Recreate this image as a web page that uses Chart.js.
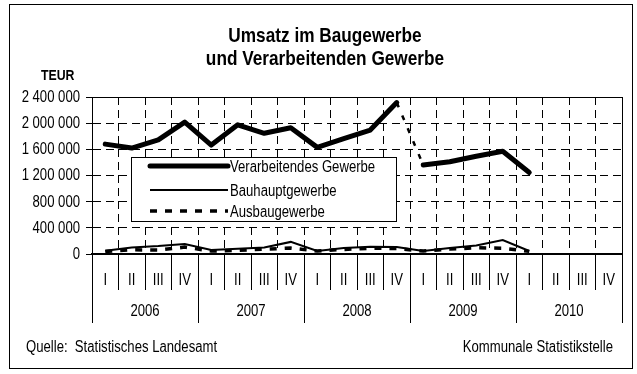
<!DOCTYPE html>
<html lang="de">
<head>
<meta charset="utf-8">
<title>Umsatz im Baugewerbe und Verarbeitenden Gewerbe</title>
<script src="https://cdn.jsdelivr.net/npm/chart.js@4.4.1/dist/chart.umd.min.js"></script>
<style>
    html, body {
        margin: 0;
        padding: 0;
        background-color: #fff;
    }

    canvas {
        display: block;
    }
</style>
</head>
<body>
<canvas id="umsatz" width="637" height="374"></canvas>
<script>
    // Quartale 2006 - 2010, Umsatz in TEUR
    const quartale = ['I', 'II', 'III', 'IV', 'I', 'II', 'III', 'IV', 'I', 'II', 'III', 'IV',
                      'I', 'II', 'III', 'IV', 'I', 'II', 'III', 'IV'];
    const jahre = ['2006', '2007', '2008', '2009', '2010'];

    const verarbeitendesGewerbe = [1680000, 1620000, 1745000, 2015000, 1665000, 1975000, 1845000, 1930000,
                                   1630000, 1765000, 1895000, 2315000, 1360000, 1410000, 1495000, 1570000,
                                   1245000, null, null, null];
    const bauhauptgewerbe = [50000, 100000, 122000, 153000, 61000, 80000, 100000, 185000,
                             46000, 90000, 112000, 108000, 46000, 90000, 130000, 214000,
                             46000, null, null, null];
    const ausbaugewerbe = [40000, 65000, 60000, 105000, 45000, 55000, 75000, 90000,
                           45000, 70000, 87000, 85000, 45000, 75000, 95000, 88000,
                           40000, null, null, null];

    // Bruch in der Reihe Verarbeitendes Gewerbe zwischen IV/2008 und I/2009
    const bruchNach = 11;

    const yMax = 2400000;
    const yStep = 400000;

    // keine Narrow-Schrift vorhanden -> Text horizontal stauchen
    const schrift = "'Liberation Sans', Arial, sans-serif";
    const stauchung = 0.82;

    const tausender = v => String(v).replace(/\B(?=(\d{3})+(?!\d))/g, ' ');

    function schmal(ctx, text, x, y, font, align, baseline) {
        ctx.save();
        ctx.font = font;
        ctx.fillStyle = '#000';
        ctx.textAlign = align || 'left';
        ctx.textBaseline = baseline || 'alphabetic';
        ctx.translate(x, y);
        ctx.scale(stauchung, 1);
        ctx.fillText(text, 0, 0);
        ctx.restore();
    }

    const rahmen = {
        id: 'rahmen',
        beforeDraw(chart) {
            const ctx = chart.ctx;
            ctx.save();
            ctx.fillStyle = '#fff';
            ctx.fillRect(0, 0, chart.width, chart.height);
            ctx.restore();
        },
        afterDatasetsDraw(chart) {
            const {ctx, chartArea: a} = chart;
            ctx.save();
            // oberer und rechter Rand der Zeichenfläche
            ctx.strokeStyle = '#000';
            ctx.lineWidth = 1;
            ctx.beginPath();
            ctx.moveTo(a.left, a.top + 0.5);
            ctx.lineTo(a.right + 0.5, a.top + 0.5);
            ctx.lineTo(a.right + 0.5, a.bottom);
            ctx.stroke();

            // Legende
            const lx = 131.5, ly = 157.5, lw = 265, lh = 64;
            ctx.fillStyle = '#fff';
            ctx.fillRect(lx, ly, lw, lh);
            ctx.strokeRect(lx, ly, lw, lh);
            const zeilen = [166, 190, 211];
            chart.data.datasets.forEach((ds, i) => {
                const y = zeilen[i];
                ctx.save();
                ctx.lineWidth = ds.borderWidth;
                ctx.strokeStyle = ds.borderColor;
                ctx.lineCap = ds.borderCapStyle || 'butt';
                ctx.setLineDash(ds.borderDash || []);
                ctx.beginPath();
                ctx.moveTo(150, y);
                ctx.lineTo(228, y);
                ctx.stroke();
                ctx.restore();
                schmal(ctx, ds.label, 230, y + 2, '16px ' + schrift, 'left', 'middle');
            });
            ctx.restore();
        },
        afterDraw(chart) {
            const ctx = chart.ctx;
            const {x, jahr, y} = chart.scales;

            // Achsenbeschriftungen an den Positionen der Skalen
            x.ticks.forEach((t, i) => {
                schmal(ctx, x.getLabelForValue(t.value), x.getPixelForTick(i), x.top + 27,
                       '16px ' + schrift, 'center', 'middle');
            });
            jahr.ticks.forEach((t, i) => {
                schmal(ctx, jahr.getLabelForValue(t.value), jahr.getPixelForTick(i), jahr.top + 22,
                       '16px ' + schrift, 'center', 'middle');
            });
            y.ticks.forEach((t, i) => {
                schmal(ctx, tausender(t.value), y.right - 12, y.getPixelForTick(i) + 0.5,
                       '16px ' + schrift, 'right', 'middle');
            });

            ctx.save();
            ctx.strokeStyle = '#000';
            ctx.lineWidth = 1;
            ctx.strokeRect(9.5, 4.5, 623, 364);
            ctx.restore();

            schmal(ctx, 'Umsatz im Baugewerbe', 325, 42, 'bold 21px ' + schrift, 'center');
            schmal(ctx, 'und Verarbeitenden Gewerbe', 325, 64.5, 'bold 21px ' + schrift, 'center');
            schmal(ctx, 'TEUR', 41, 80, 'bold 15px ' + schrift);
            schmal(ctx, 'Quelle:  Statistisches Landesamt', 26, 352, '16px ' + schrift);
            schmal(ctx, 'Kommunale Statistikstelle', 613, 352, '16px ' + schrift, 'right');
        }
    };

    new Chart(document.getElementById('umsatz'), {
        type: 'line',
        data: {
            labels: quartale,
            datasets: [{
                label: 'Verarbeitendes Gewerbe',
                data: verarbeitendesGewerbe,
                borderColor: '#000',
                borderWidth: 5,
                borderCapStyle: 'round',
                borderJoinStyle: 'round',
                segment: {
                    borderDash: c => c.p0DataIndex === bruchNach ? [5, 9] : undefined,
                    borderWidth: c => c.p0DataIndex === bruchNach ? 2.5 : undefined,
                    borderCapStyle: c => c.p0DataIndex === bruchNach ? 'butt' : undefined
                }
            }, {
                label: 'Bauhauptgewerbe',
                data: bauhauptgewerbe,
                borderColor: '#000',
                borderWidth: 2
            }, {
                label: 'Ausbaugewerbe',
                data: ausbaugewerbe,
                borderColor: '#000',
                borderWidth: 3.5,
                borderDash: [7, 8]
            }]
        },
        options: {
            responsive: false,
            animation: false,
            spanGaps: false,
            elements: {
                point: { radius: 0 },
                line: { tension: 0 }
            },
            layout: {
                padding: { left: 10, right: 15, top: 97, bottom: 51 }
            },
            plugins: {
                legend: { display: false },
                title: { display: false },
                tooltip: { enabled: false }
            },
            scales: {
                x: {
                    type: 'category',
                    offset: true,
                    weight: 0,
                    grid: {
                        offset: true,
                        color: '#000',
                        lineWidth: 1,
                        tickLength: 36
                    },
                    border: { color: '#000', width: 2, dash: [8, 5] },
                    ticks: { display: false, autoSkip: false },
                    afterFit(s) { s.height = 36; }
                },
                jahr: {
                    type: 'category',
                    labels: jahre,
                    position: 'bottom',
                    offset: true,
                    weight: 1,
                    grid: {
                        offset: true,
                        drawOnChartArea: false,
                        color: '#000',
                        tickLength: 33
                    },
                    border: { display: false },
                    ticks: { display: false, autoSkip: false },
                    afterFit(s) { s.height = 33; }
                },
                y: {
                    min: 0,
                    max: yMax,
                    grid: {
                        color: '#000',
                        tickLength: 6
                    },
                    border: { color: '#000', width: 1, dash: [8, 5] },
                    ticks: { display: false, stepSize: yStep },
                    afterFit(s) { s.width = 82; }
                }
            }
        },
        plugins: [rahmen]
    });
</script>
</body>
</html>
